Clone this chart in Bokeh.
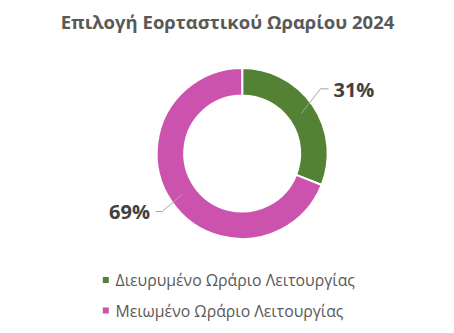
import math
from bokeh.plotting import figure
from bokeh.models import Range1d, ColumnDataSource
from bokeh.core.properties import value
from bokeh.embed import file_html
from bokeh.resources import INLINE

# ---- data ----
categories = ["Διευρυμένο Ωράριο Λειτουργίας", "Μειωμένο Ωράριο Λειτουργίας"]
shares = [31, 69]
colors = ["#548235", "#CB52AD"]
title_text = "Επιλογή Εορταστικού Ωραρίου 2024"

W, H = 454, 333
def Y(py):
    return H - py

p = figure(width=W, height=H, output_backend="svg", toolbar_location=None,
           x_range=Range1d(0, W), y_range=Range1d(0, H), min_border=0)
p.axis.visible = False
p.grid.visible = False
p.outline_line_color = None
p.background_fill_color = "white"

cx, cy = 241.7, Y(153)
r_in, r_out = 58, 85.5

total = sum(shares)
starts, ends, mids = [], [], []
acc = 0.0
for v in shares:
    a0 = math.pi / 2 - 2 * math.pi * acc / total
    acc += v
    a1 = math.pi / 2 - 2 * math.pi * acc / total
    starts.append(a1)
    ends.append(a0)
    mids.append((a0 + a1) / 2)

src = ColumnDataSource(dict(start=starts, end=ends, color=colors))
p.annular_wedge(x=cx, y=cy, inner_radius=r_in, outer_radius=r_out,
                start_angle="start", end_angle="end", fill_color="color",
                line_color="white", line_width=2, source=src)

# leader lines and data labels
r_mid = (r_in + r_out) / 2
elbows = [(320, Y(88.3)), (161.7, Y(211))]
tails = [(328, Y(88.3)), (155, Y(211))]
label_pos = [(333, Y(88.5), "left"), (149.5, Y(211), "right")]
for i, m in enumerate(mids):
    sx = cx + r_mid * math.cos(m)
    sy = cy + r_mid * math.sin(m)
    ex, ey = elbows[i]
    tx, ty = tails[i]
    p.line([sx, ex, tx], [sy, ey, ty], line_color="#A6A6A6", line_width=1)
    lx, ly, al = label_pos[i]
    p.text(x=[lx], y=[ly], text=[f"{shares[i]}%"], text_font=value("Open Sans"),
           text_font_style="bold", text_font_size="20px", text_color="#404040",
           text_align=al, text_baseline="middle")

# title
p.text(x=[227], y=[Y(20.5)], text=[title_text], text_font=value("Open Sans"),
       text_font_style="bold", text_font_size="18.5px", text_color="#595959",
       text_align="center", text_baseline="middle")

# legend
leg_y = [Y(279.5), Y(310)]
p.scatter(x=[105.3] * len(categories), y=leg_y, marker="square", size=6,
          fill_color=colors, line_color=None)
p.text(x=[115] * len(categories), y=leg_y, text=categories, text_font=value("Open Sans"),
       text_font_size="15.8px", text_color="#595959", text_align="left",
       text_baseline="middle")

open("out.html", "w").write(file_html(p, INLINE))
